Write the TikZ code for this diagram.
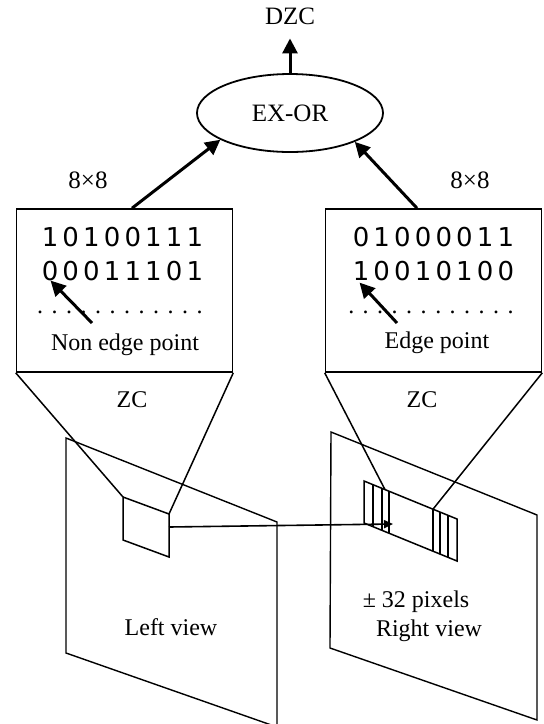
\documentclass[tikz,border=0pt]{standalone}
\usepackage{fontspec}
\setmainfont{Liberation Serif}
\newfontfamily\bitfont[LetterSpace=16]{DejaVu Sans}
\usetikzlibrary{shapes.geometric,arrows.meta,positioning}

\newcommand{\lblsize}{\fontsize{24pt}{28pt}\selectfont}
\newcommand{\bigsize}{\fontsize{25pt}{30pt}\selectfont}
\newcommand{\dotrow}{\hbox to 174pt{\cleaders\hbox to 14.5pt{\hss.\hss}\hfill}}

\begin{document}
\begin{tikzpicture}[x=1pt, y=-1pt,
        cell/.style={rectangle, draw, line width=1.6pt, minimum width=216pt, minimum height=163pt, inner sep=0pt},
        gate/.style={ellipse, draw, line width=1.8pt, minimum width=186pt, minimum height=78pt, inner sep=0pt, font=\bigsize},
        lbl/.style={font=\lblsize, inner sep=0pt, anchor=base},
        bits/.style={font=\bitfont\fontsize{26pt}{30pt}\selectfont, inner sep=0pt},
        arrow/.style={-{Triangle[length=15pt,width=15pt]}, line width=3pt},
        hop/.style={-{Triangle[length=9pt,width=8pt]}, line width=1.6pt},
        sheet/.style={line width=1.4pt, line join=miter},
        beam/.style={line width=1.5pt}
    ]
        \useasboundingbox (0,0) rectangle (544,724);
        \clip (0,0) rectangle (544,724);

        % EX-OR stage
        \node[lbl, font=\bigsize] (dzc) at (290,24) {DZC};
        \node[gate] (xor) at (290,113) {EX-OR};
        \draw[arrow] (xor.north) -- ([yshift=-14pt]dzc.south);

        % 8x8 blocks
        \node[cell] (lbox) at (124.5,290.5) {};
        \node[cell] (rbox) at (433.5,290.5) {};
        \node[lbl, font=\bigsize] (lsize) at (88,188) {8×8};
        \node[lbl, font=\bigsize] (rsize) at (470,188) {8×8};
        \draw[arrow] ([xshift=7.5pt]lbox.north) -- (xor.201);
        \draw[arrow] ([xshift=-16.5pt]rbox.north) -- (xor.336);

        \node[bits] (lrow1) at (122.5,237.5) {10100111};
        \node[bits, below=13pt of lrow1] (lrow2) {00011101};
        \node[lbl] (ldots) at (120,313) {\dotrow};
        \node[lbl] (lnote) at (125,350) {Non edge point};
        \coordinate (ltail) at (92,323);
        \draw[arrow] (ltail) -- ([xshift=9pt]lrow2.south west);

        \node[bits] (rrow1) at (433.5,237.5) {01000011};
        \node[bits, below=13pt of rrow1] (rrow2) {10010100};
        \node[lbl] (rdots) at (431,313) {\dotrow};
        \node[lbl] (rnote) at (437,348) {Edge point};
        \coordinate (rtail) at (397,323);
        \draw[arrow] (rtail) -- ([xshift=7pt,yshift=-2pt]rrow2.south west);

        \node[lbl] (lzc) at (132,407) {ZC};
        \node[lbl] (rzc) at (422,407) {ZC};

        % views
        \draw[sheet] (66,438) -- (277,522) -- (277,727) -- (66,653) -- cycle;
        \draw[sheet] (331,432) -- (537,515) -- (537,720) -- (330,648) -- cycle;

        % window in left view
        \coordinate (sqa) at (123,497);
        \coordinate (sqb) at (169,514);
        \coordinate (sqc) at (169,557);
        \coordinate (sqd) at (123,540);
        \coordinate (sqe) at (169,527);
        \draw[beam] (sqa) -- (sqb) -- (sqc) -- (sqd) -- cycle;
        \draw[beam] (lbox.south west) -- (sqa);
        \draw[beam] (lbox.south east) -- (sqb);

        % search strip in right view
        \coordinate (sta) at (364,481);
        \coordinate (stb) at (457,519);
        \coordinate (stc) at (457,561);
        \coordinate (std) at (364,523);
        \coordinate (stl) at (385,489.6);
        \coordinate (str) at (433,509.2);
        \coordinate (stp) at (393,524);
        \draw[beam] (sta) -- (stb) -- (stc) -- (std) -- cycle;
        \foreach \x in {373,382,389,433,440,448}
            \draw[beam] (\x,{481+(\x-364)*0.4086}) -- ++(0,42);
        \draw[beam] (rbox.south west) -- (stl);
        \draw[beam] (rbox.south east) -- (str);
        \draw[hop] (sqe) -- (stp);

        \node[lbl] (lview) at (171,635) {Left view};
        \node[lbl] (range) at (416,607) {± 32 pixels};
        \node[lbl] (rview) at (429,636) {Right view};
    \end{tikzpicture}
\end{document}
